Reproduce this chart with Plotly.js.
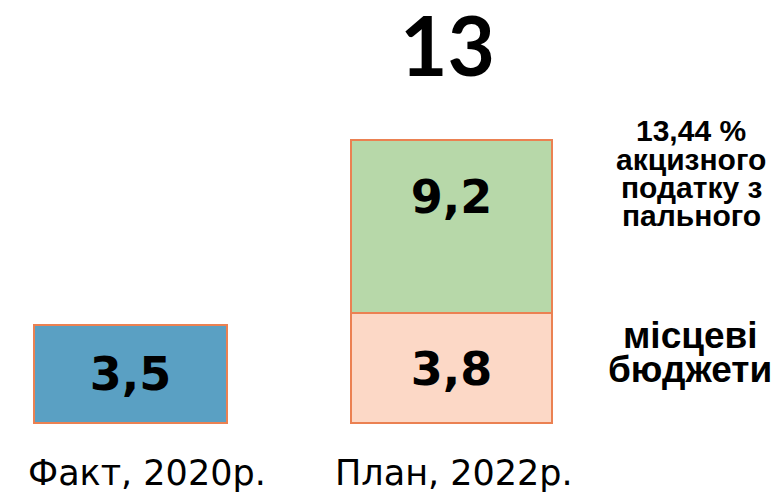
<!DOCTYPE html>
<html>
<head>
<meta charset="utf-8">
<script src="https://cdn.plot.ly/plotly-3.0.1.min.js"></script>
<style>html,body{margin:0;padding:0;background:#fff;}#chart{width:777px;height:494px;}</style>
</head>
<body>
<div id="chart"></div>
<script>
// ---- data ----
var categories = ['Факт, 2020р.', 'План, 2022р.'];
var factValues = [3.5];            // Факт, 2020р.
var localBudgets = [3.8];          // План, 2022р. — місцеві бюджети
var exciseShare = [9.2];           // План, 2022р. — 13,44 % акцизного податку з пального
var exciseLabel = ['13,44 %', 'акцизного', 'податку з', 'пального'];
var localLabel = ['місцеві', 'бюджети'];

var planTotal = Math.round((localBudgets[0] + exciseShare[0]) * 10) / 10;
function fmt(v) { return String(v).replace('.', ','); }

// ---- layout helpers (pixel -> paper) ----
var W = 777, plotBottom = 424;
function px(x) { return x / W; }
function py(y) { return (plotBottom - y) / plotBottom; }

var barWidth = [0.6, 0.625];
var edgeColor = '#EB8152';
var edge = {color: edgeColor, width: 2};
var valueFont = {family: '"DejaVu Sans", sans-serif', size: 46, color: '#000', weight: 'bold'};

var traces = [
  {
    type: 'bar', x: [categories[0]], y: factValues, width: barWidth[0],
    marker: {color: '#5AA0C3', line: edge},
    texttemplate: '%{y:.1f}', textposition: 'inside', insidetextanchor: 'middle',
    textfont: valueFont, hoverinfo: 'skip', showlegend: false
  },
  {
    type: 'bar', x: [categories[1]], y: localBudgets, width: barWidth[1],
    marker: {color: '#FCD8C6', line: edge},
    texttemplate: '%{y:.1f}', textposition: 'inside', insidetextanchor: 'middle',
    textfont: valueFont, hoverinfo: 'skip', showlegend: false
  },
  {
    type: 'bar', x: [categories[1]], y: exciseShare, width: barWidth[1],
    marker: {color: '#B7D8A9', line: edge},
    texttemplate: '%{y:.1f}<br> ', textposition: 'inside', insidetextanchor: 'middle',
    textfont: valueFont, hoverinfo: 'skip', showlegend: false
  }
];

// bottom outline of the bars (the log axis clips the bar base)
var shapes = categories.map(function (c, i) {
  return {
    type: 'line', xref: 'x', yref: 'paper',
    x0: i - barWidth[i] / 2, x1: i + barWidth[i] / 2,
    y0: py(423), y1: py(423),
    line: {color: edgeColor, width: 2}, layer: 'above'
  };
});

var annotations = [];
// total above the plan bar
annotations.push({
  x: categories[1], xref: 'x', y: Math.log10(planTotal), yref: 'y',
  text: '<b>' + fmt(planTotal) + '</b>', showarrow: false,
  yanchor: 'middle', yshift: 96, xshift: -4, height: 86, valign: 'middle',
  font: {family: 'Lato, sans-serif', size: 82, color: '#000'}
});
// category labels
var catShift = [17, 2];
categories.forEach(function (c, i) {
  annotations.push({
    x: c, xref: 'x', y: py(473), yref: 'paper', text: c, showarrow: false,
    xshift: catShift[i], yanchor: 'middle',
    font: {family: '"DejaVu Sans", sans-serif', size: 35, color: '#000'}
  });
});
// right-side series labels
var excY = [130, 159, 187, 215];
exciseLabel.forEach(function (t, i) {
  annotations.push({
    x: px(691), xref: 'paper', y: py(excY[i]), yref: 'paper', text: '<b>' + t + '</b>',
    showarrow: false, xanchor: 'center', yanchor: 'middle',
    font: {family: '"Liberation Sans", Arial, sans-serif', size: 30, color: '#000'}
  });
});
var locY = [335, 369];
localLabel.forEach(function (t, i) {
  annotations.push({
    x: px(690), xref: 'paper', y: py(locY[i]), yref: 'paper', text: '<b>' + t + '</b>',
    showarrow: false, xanchor: 'center', yanchor: 'middle',
    font: {family: '"Liberation Sans", Arial, sans-serif', size: 37, color: '#000'}
  });
});

var layout = {
  width: 777, height: 494,
  margin: {l: 0, r: 0, t: 0, b: 70, pad: 0},
  paper_bgcolor: '#fff', plot_bgcolor: '#fff',
  barmode: 'stack',
  separators: ', ',
  xaxis: {
    type: 'category', range: [-0.4065, 2.014],
    showticklabels: false, showgrid: false, zeroline: false, showline: false, ticks: ''
  },
  yaxis: {
    type: 'log', range: [0.2371, 1.5461],
    showticklabels: false, showgrid: false, zeroline: false, showline: false, ticks: ''
  },
  shapes: shapes,
  annotations: annotations,
  showlegend: false
};

Plotly.newPlot('chart', traces, layout, {displayModeBar: false, staticPlot: true});
</script>
</body>
</html>
